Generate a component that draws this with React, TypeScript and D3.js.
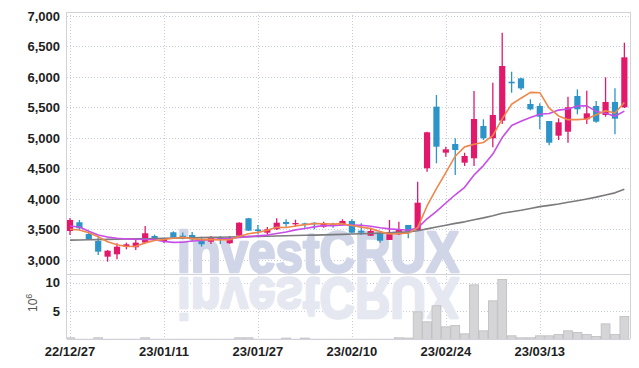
import React from "react";
import * as d3 from "d3";

// trading days shown on the chart
const dates = [
  "22/12/27", "22/12/28", "22/12/29", "23/01/02", "23/01/03", "23/01/04", "23/01/05", "23/01/06", "23/01/09", "23/01/10",
  "23/01/11", "23/01/12", "23/01/13", "23/01/16", "23/01/17", "23/01/18", "23/01/19", "23/01/20", "23/01/25", "23/01/26",
  "23/01/27", "23/01/30", "23/01/31", "23/02/01", "23/02/02", "23/02/03", "23/02/06", "23/02/07", "23/02/08", "23/02/09",
  "23/02/10", "23/02/13", "23/02/14", "23/02/15", "23/02/16", "23/02/17", "23/02/20", "23/02/21", "23/02/22", "23/02/23",
  "23/02/24", "23/02/27", "23/02/28", "23/03/02", "23/03/03", "23/03/06", "23/03/07", "23/03/08", "23/03/09", "23/03/10",
  "23/03/13", "23/03/14", "23/03/15", "23/03/16", "23/03/17", "23/03/20", "23/03/21", "23/03/22", "23/03/23", "23/03/24",
];

const open = [
  3475, 3618, 3426, 3311, 3054, 3093, 3218, 3208, 3284, 3393,
  3311, 3454, 3398, 3410, 3339, 3300, 3365, 3274, 3398, 3683,
  3500, 3447, 3503, 3623, 3585, 3600, 3610, 3546, 3590, 3574,
  3639, 3480, 3398, 3438, 3328, 3421, 3574, 3492, 4503, 5513,
  4759, 4901, 4595, 4667, 5196, 4995, 5283, 5922, 5977, 5557,
  5524, 5278, 5037, 5103, 5688, 5306, 5524, 5377, 5590, 5503,
];
const high = [
  3688, 3656, 3447, 3382, 3164, 3274, 3284, 3328, 3557, 3415,
  3360, 3470, 3450, 3459, 3382, 3393, 3393, 3393, 3618, 3690,
  3573, 3541, 3683, 3667, 3660, 3611, 3620, 3625, 3611, 3667,
  3667, 3601, 3530, 3470, 3656, 3628, 3574, 4283, 5103, 5704,
  4857, 4995, 4758, 5770, 5306, 5906, 6726, 6086, 5988, 5634,
  5568, 5278, 5322, 5677, 5797, 5775, 5606, 5994, 5813, 6562,
];
const low = [
  3410, 3492, 3340, 3082, 2972, 3011, 3175, 3164, 3274, 3316,
  3279, 3365, 3340, 3300, 3218, 3262, 3262, 3265, 3393, 3475,
  3421, 3415, 3492, 3546, 3546, 3530, 3505, 3530, 3530, 3562,
  3437, 3410, 3393, 3284, 3328, 3410, 3356, 3480, 4447, 4585,
  4693, 4393, 4541, 4541, 4967, 4847, 5230, 5742, 5786, 5453,
  5142, 4880, 4967, 4923, 5388, 5229, 5250, 5349, 5060, 5491,
];
const close = [
  3656, 3520, 3344, 3136, 3152, 3218, 3257, 3284, 3438, 3339,
  3344, 3372, 3355, 3339, 3257, 3365, 3328, 3365, 3611, 3480,
  3475, 3503, 3611, 3590, 3606, 3590, 3585, 3601, 3560, 3639,
  3447, 3447, 3475, 3316, 3438, 3492, 3464, 3939, 5093, 4857,
  4814, 4803, 4705, 5311, 4995, 5377, 6180, 5896, 5813, 5470,
  5349, 4923, 5257, 5503, 5470, 5404, 5267, 5590, 5316, 6322,
];

// volume, in millions of shares
const volume = [
  0.3, 0.05, 0.05, 0.3, 0.05, 0.05, 0.05, 0.05, 0.3, 0.05,
  0.05, 0.05, 0.05, 0.05, 0.05, 0.05, 0.05, 0.05, 0.3, 0.3,
  0.05, 0.05, 0.05, 0.25, 0.05, 0.25, 0.05, 0.05, 0.05, 0.05,
  0.05, 0.05, 0.05, 0.05, 0.05, 0.3, 0.25, 4.88, 3.12, 5.94,
  2.24, 2.47, 1.0, 9.64, 1.53, 6.82, 10.58, 0.65, 0.3, 0.3,
  0.65, 0.65, 0.88, 1.53, 1.23, 0.88, 0.53, 2.76, 0.88, 4.06,
];

// moving averages
const ma5 = [
  3503, 3492, 3447, 3380, 3300, 3250, 3220, 3225, 3280, 3320,
  3335, 3355, 3370, 3350, 3333, 3338, 3329, 3331, 3385, 3430,
  3452, 3487, 3536, 3532, 3557, 3580, 3596, 3594, 3588, 3595,
  3566, 3539, 3514, 3465, 3425, 3434, 3437, 3530, 3885, 4169,
  4433, 4701, 4854, 4898, 4926, 5038, 5314, 5552, 5652, 5747,
  5742, 5490, 5362, 5300, 5300, 5311, 5380, 5447, 5409, 5580,
];
const ma10 = [
  3557, 3540, 3470, 3410, 3375, 3355, 3345, 3340, 3335, 3334,
  3303, 3288, 3290, 3310, 3320, 3335, 3342, 3350, 3368, 3382,
  3395, 3408, 3433, 3459, 3493, 3516, 3542, 3565, 3560, 3576,
  3573, 3568, 3554, 3527, 3510, 3500, 3488, 3522, 3675, 3797,
  3934, 4069, 4192, 4392, 4547, 4736, 5007, 5203, 5275, 5336,
  5390, 5402, 5457, 5476, 5524, 5527, 5435, 5405, 5355, 5440,
];
const ma60 = [
  3325, 3328, 3331, 3334, 3337, 3340, 3343, 3346, 3349, 3352,
  3355, 3358, 3361, 3364, 3367, 3370, 3373, 3376, 3380, 3383,
  3386, 3389, 3392, 3396, 3400, 3404, 3408, 3412, 3416, 3420,
  3425, 3430, 3435, 3440, 3445, 3452, 3460, 3480, 3510, 3540,
  3570, 3600, 3625, 3660, 3690, 3725, 3765, 3790, 3815, 3845,
  3874, 3895, 3918, 3945, 3972, 4000, 4030, 4065, 4100, 4160,
];

const priceTicks = [3000, 3500, 4000, 4500, 5000, 5500, 6000, 6500, 7000];
const volumeTicks = [5, 10];
const dateTicks = [0, 10, 20, 30, 40, 50];

const W = 639;
const H = 368;
const left = 67;
const right = 630;
const top = 12;
const split = 274;
const bottom = 339;

const UP = "#e2196b";
const DOWN = "#2c94c8";
const GRID = "#c8cce0";
const FRAME = "#d2d3da";
const FONT = "'Liberation Sans', Arial, sans-serif";

const App = () => {
  const x = d3.scaleLinear().domain([-0.32, dates.length - 0.4]).range([left, right]);
  const step = x(1) - x(0);
  const y = d3.scaleLinear().domain([2770, 7065]).range([split, top]);
  const yv = d3.scaleLinear().domain([0, 11.55]).range([bottom + 0.5, split]);

  const line = (vals: number[]) =>
    d3
      .line<number>()
      .x((_, i) => x(i))
      .y((d) => y(d))(vals) || "";

  const fmt = d3.format(",");

  return (
    <svg width={W} height={H} style={{ display: "block", position: "absolute", left: 0, top: 0 }}>
      <defs>
        <clipPath id="pricePanel">
          <rect x={left} y={top} width={right - left} height={split - top} />
        </clipPath>
        <clipPath id="volPanel">
          <rect x={left} y={split + 1} width={right - left} height={bottom - split} />
        </clipPath>
      </defs>
      <rect width={W} height={H} fill="#fff" />

      {/* grid */}
      <g stroke={GRID} strokeWidth={1} strokeDasharray="1,2">
        {priceTicks.map((t) => (
          <line key={"p" + t} x1={left} x2={right} y1={Math.round(y(t)) + 0.5} y2={Math.round(y(t)) + 0.5} />
        ))}
        {volumeTicks.map((t) => (
          <line key={"v" + t} x1={left} x2={right} y1={Math.round(yv(t)) + 0.5} y2={Math.round(yv(t)) + 0.5} />
        ))}
        {dateTicks.map((i) => (
          <line key={"d" + i} x1={Math.round(x(i)) + 0.5} x2={Math.round(x(i)) + 0.5} y1={top} y2={bottom} />
        ))}
      </g>

      {/* watermark + reflection */}
      <g clipPath="url(#pricePanel)">
        <text
          x={177}
          y={272}
          textLength={282}
          lengthAdjust="spacingAndGlyphs"
          fontFamily={FONT}
          fontWeight="bold"
          fontSize={57}
          fill="#d0d6e7"
          stroke="#d0d6e7"
          strokeWidth={2.6}
          strokeLinejoin="round"
        >
          investCRUX
        </text>
      </g>
      <g clipPath="url(#volPanel)">
        <g transform={`translate(0,${2 * split + 2}) scale(1,-1)`}>
          <text
            x={177}
            y={272}
            textLength={282}
            lengthAdjust="spacingAndGlyphs"
            fontFamily={FONT}
            fontWeight="bold"
            fontSize={57}
            fill="#e6e8f1"
            stroke="#e6e8f1"
            strokeWidth={2.6}
            strokeLinejoin="round"
          >
            investCRUX
          </text>
        </g>
      </g>

      {/* volume bars */}
      <g clipPath="url(#volPanel)">
        {volume.map((v, i) => (
          <rect
            key={i}
            x={x(i) - step * 0.47}
            y={yv(v)}
            width={step * 0.94}
            height={Math.max(0, yv(0) - yv(v))}
            fill="#d5d5d7"
            stroke="#bdbdc0"
            strokeWidth={0.8}
          />
        ))}
      </g>

      {/* frame */}
      <g stroke={FRAME} strokeWidth={1} fill="none">
        <line x1={left} x2={right} y1={top + 0.5} y2={top + 0.5} />
        <line x1={left} x2={right} y1={split + 0.5} y2={split + 0.5} />
        <line x1={left} x2={right} y1={bottom + 0.5} y2={bottom + 0.5} />
        <line x1={left - 0.5} x2={left - 0.5} y1={top} y2={bottom} />
        <line x1={right + 0.5} x2={right + 0.5} y1={top} y2={bottom} />
      </g>

      {/* candles */}
      <g clipPath="url(#pricePanel)">
        {close.map((c, i) => {
          const o = open[i];
          const col = c >= o ? UP : DOWN;
          const bt = y(Math.max(o, c));
          const bb = y(Math.min(o, c));
          const cx = x(i);
          return (
            <g key={i}>
              <line x1={cx} x2={cx} y1={y(high[i])} y2={y(low[i])} stroke={col} strokeWidth={1.3} />
              <rect x={cx - 3.1} y={bt} width={6.2} height={Math.max(1.2, bb - bt)} fill={col} />
            </g>
          );
        })}
      </g>

      {/* moving averages */}
      <g clipPath="url(#pricePanel)" fill="none" strokeWidth={1.6} strokeLinejoin="round">
        <path d={line(ma60)} stroke="#7b7b7e" />
        <path d={line(ma10)} stroke="#c84ce6" />
        <path d={line(ma5)} stroke="#f0874a" />
      </g>

      {/* axis labels */}
      <g fontFamily={FONT} fontWeight="bold" fontSize={13} fill="#1e1e1e">
        {priceTicks.map((t) => (
          <text key={t} x={60} y={y(t)} dy="0.36em" textAnchor="end">
            {fmt(t)}
          </text>
        ))}
        {volumeTicks.map((t) => (
          <text key={"v" + t} x={60} y={yv(t)} dy="0.36em" textAnchor="end">
            {t}
          </text>
        ))}
        {dateTicks.map((i) => (
          <text key={"d" + i} x={x(i)} y={355.5} textAnchor="middle">
            {dates[i]}
          </text>
        ))}
      </g>
      <text
        transform="translate(37,312) rotate(-90)"
        fontFamily={FONT}
        fontSize={12}
        fill="#555"
      >
        10
        <tspan dy={-5} fontSize={9}>
          6
        </tspan>
      </text>
    </svg>
  );
};

export default App;
